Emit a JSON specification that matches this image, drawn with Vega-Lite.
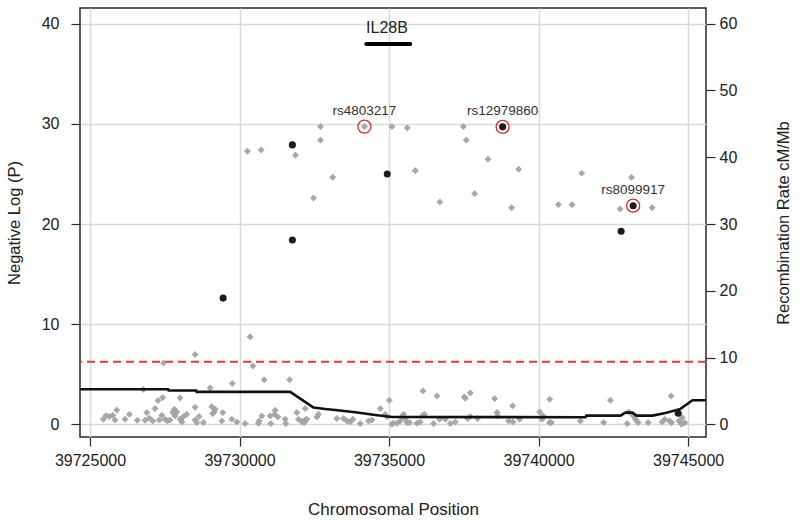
{
  "$schema": "https://vega.github.io/schema/vega-lite/v6.json",
  "width": 626,
  "height": 429,
  "autosize": {"type": "none"},
  "padding": {"left": 80, "top": 8, "right": 94, "bottom": 88},
  "background": "white",
  "config": {
    "view": {"stroke": "#2a2a2a", "strokeWidth": 1.5},
    "font": "Liberation Sans",
    "axis": {"labelColor": "#222", "titleColor": "#222", "titleFontWeight": "normal", "tickColor": "#2a2a2a", "tickWidth": 1.2, "domain": false, "labelFlush": false, "labelOverlap": false}
  },
  "datasets": {
    "snps": [
      {"pos": 39730264, "logp": 27.27, "kind": "g"},
      {"pos": 39730723, "logp": 27.4, "kind": "g"},
      {"pos": 39731767, "logp": 27.9, "kind": "b"},
      {"pos": 39731871, "logp": 26.87, "kind": "g"},
      {"pos": 39732707, "logp": 29.73, "kind": "g"},
      {"pos": 39732707, "logp": 28.37, "kind": "g"},
      {"pos": 39733116, "logp": 24.67, "kind": "g"},
      {"pos": 39732474, "logp": 22.6, "kind": "g"},
      {"pos": 39734177, "logp": 29.73, "kind": "g", "label": "rs4803217"},
      {"pos": 39735097, "logp": 29.73, "kind": "g"},
      {"pos": 39735609, "logp": 29.6, "kind": "g"},
      {"pos": 39734940, "logp": 25.0, "kind": "b"},
      {"pos": 39735877, "logp": 25.33, "kind": "g"},
      {"pos": 39736697, "logp": 22.2, "kind": "g"},
      {"pos": 39731767, "logp": 18.4, "kind": "b"},
      {"pos": 39729451, "logp": 12.6, "kind": "b"},
      {"pos": 39737483, "logp": 29.73, "kind": "g"},
      {"pos": 39737583, "logp": 28.37, "kind": "g"},
      {"pos": 39738798, "logp": 29.7, "kind": "b", "label": "rs12979860"},
      {"pos": 39738310, "logp": 26.47, "kind": "g"},
      {"pos": 39739334, "logp": 25.47, "kind": "g"},
      {"pos": 39737861, "logp": 23.03, "kind": "g"},
      {"pos": 39739099, "logp": 21.63, "kind": "g"},
      {"pos": 39741442, "logp": 25.07, "kind": "g"},
      {"pos": 39740663, "logp": 21.93, "kind": "g"},
      {"pos": 39741121, "logp": 21.93, "kind": "g"},
      {"pos": 39743106, "logp": 24.67, "kind": "g"},
      {"pos": 39742728, "logp": 21.5, "kind": "g"},
      {"pos": 39743162, "logp": 21.83, "kind": "b", "label": "rs8099917"},
      {"pos": 39743799, "logp": 21.63, "kind": "g"},
      {"pos": 39742761, "logp": 19.27, "kind": "b"},
      {"pos": 39730354, "logp": 8.73, "kind": "g"},
      {"pos": 39730445, "logp": 5.83, "kind": "g"},
      {"pos": 39728514, "logp": 6.97, "kind": "g"},
      {"pos": 39727460, "logp": 6.12, "kind": "g"},
      {"pos": 39730824, "logp": 4.45, "kind": "g"},
      {"pos": 39729759, "logp": 4.07, "kind": "g"},
      {"pos": 39731676, "logp": 4.45, "kind": "g"},
      {"pos": 39729016, "logp": 3.63, "kind": "g"},
      {"pos": 39726781, "logp": 3.48, "kind": "g"},
      {"pos": 39728012, "logp": 2.63, "kind": "g"},
      {"pos": 39727276, "logp": 2.37, "kind": "g"},
      {"pos": 39727433, "logp": 2.67, "kind": "g"},
      {"pos": 39728514, "logp": 1.7, "kind": "g"},
      {"pos": 39725894, "logp": 1.43, "kind": "g"},
      {"pos": 39725760, "logp": 0.9, "kind": "g"},
      {"pos": 39725646, "logp": 0.77, "kind": "g"},
      {"pos": 39725445, "logp": 0.5, "kind": "g"},
      {"pos": 39725535, "logp": 0.87, "kind": "g"},
      {"pos": 39725836, "logp": 0.43, "kind": "g"},
      {"pos": 39726172, "logp": 0.5, "kind": "g"},
      {"pos": 39726316, "logp": 1.0, "kind": "g"},
      {"pos": 39726583, "logp": 0.4, "kind": "g"},
      {"pos": 39726841, "logp": 0.4, "kind": "g"},
      {"pos": 39726984, "logp": 0.63, "kind": "g"},
      {"pos": 39726898, "logp": 1.17, "kind": "g"},
      {"pos": 39727098, "logp": 0.33, "kind": "g"},
      {"pos": 39727175, "logp": 1.57, "kind": "g"},
      {"pos": 39727400, "logp": 0.9, "kind": "g"},
      {"pos": 39727319, "logp": 0.43, "kind": "g"},
      {"pos": 39727510, "logp": 0.5, "kind": "g"},
      {"pos": 39727587, "logp": 0.33, "kind": "g"},
      {"pos": 39727678, "logp": 0.43, "kind": "g"},
      {"pos": 39727822, "logp": 1.5, "kind": "g"},
      {"pos": 39727901, "logp": 1.23, "kind": "g"},
      {"pos": 39727767, "logp": 1.17, "kind": "g"},
      {"pos": 39727845, "logp": 0.83, "kind": "g"},
      {"pos": 39728012, "logp": 0.5, "kind": "g"},
      {"pos": 39728123, "logp": 0.77, "kind": "g"},
      {"pos": 39728236, "logp": 1.0, "kind": "g"},
      {"pos": 39728079, "logp": 0.23, "kind": "g"},
      {"pos": 39728514, "logp": 0.43, "kind": "g"},
      {"pos": 39728648, "logp": 0.77, "kind": "g"},
      {"pos": 39728571, "logp": 0.17, "kind": "g"},
      {"pos": 39728792, "logp": 0.17, "kind": "g"},
      {"pos": 39729073, "logp": 1.77, "kind": "g"},
      {"pos": 39729184, "logp": 1.5, "kind": "g"},
      {"pos": 39729106, "logp": 1.07, "kind": "g"},
      {"pos": 39729149, "logp": 1.23, "kind": "g"},
      {"pos": 39729441, "logp": 1.17, "kind": "g"},
      {"pos": 39729407, "logp": 0.33, "kind": "g"},
      {"pos": 39729742, "logp": 0.5, "kind": "g"},
      {"pos": 39729910, "logp": 0.23, "kind": "g"},
      {"pos": 39730187, "logp": 0.07, "kind": "g"},
      {"pos": 39730632, "logp": 0.1, "kind": "g"},
      {"pos": 39730746, "logp": 0.83, "kind": "g"},
      {"pos": 39730655, "logp": 0.33, "kind": "g"},
      {"pos": 39731047, "logp": 0.07, "kind": "g"},
      {"pos": 39731024, "logp": 0.83, "kind": "g"},
      {"pos": 39731191, "logp": 1.4, "kind": "g"},
      {"pos": 39731282, "logp": 0.73, "kind": "g"},
      {"pos": 39731168, "logp": 1.0, "kind": "g"},
      {"pos": 39731526, "logp": 0.5, "kind": "g"},
      {"pos": 39731549, "logp": 0.07, "kind": "g"},
      {"pos": 39731918, "logp": 1.17, "kind": "g"},
      {"pos": 39731971, "logp": 0.5, "kind": "g"},
      {"pos": 39732085, "logp": 0.27, "kind": "g"},
      {"pos": 39732196, "logp": 0.43, "kind": "g"},
      {"pos": 39732161, "logp": 0.17, "kind": "g"},
      {"pos": 39732252, "logp": 0.5, "kind": "g"},
      {"pos": 39732196, "logp": 1.57, "kind": "g"},
      {"pos": 39732587, "logp": 0.73, "kind": "g"},
      {"pos": 39732641, "logp": 1.0, "kind": "g"},
      {"pos": 39733257, "logp": 0.57, "kind": "g"},
      {"pos": 39733477, "logp": 0.57, "kind": "g"},
      {"pos": 39733591, "logp": 0.33, "kind": "g"},
      {"pos": 39733702, "logp": 0.23, "kind": "g"},
      {"pos": 39733792, "logp": 0.5, "kind": "g"},
      {"pos": 39734036, "logp": 0.07, "kind": "g"},
      {"pos": 39734314, "logp": 0.33, "kind": "g"},
      {"pos": 39734427, "logp": 0.43, "kind": "g"},
      {"pos": 39734705, "logp": 1.57, "kind": "g"},
      {"pos": 39735006, "logp": 2.4, "kind": "g"},
      {"pos": 39734872, "logp": 1.0, "kind": "g"},
      {"pos": 39734930, "logp": 0.77, "kind": "g"},
      {"pos": 39735097, "logp": 0.0, "kind": "g"},
      {"pos": 39736135, "logp": 3.33, "kind": "g"},
      {"pos": 39736603, "logp": 2.83, "kind": "g"},
      {"pos": 39737517, "logp": 2.73, "kind": "g"},
      {"pos": 39737717, "logp": 3.13, "kind": "g"},
      {"pos": 39737550, "logp": 2.6, "kind": "g"},
      {"pos": 39738531, "logp": 2.57, "kind": "g"},
      {"pos": 39739133, "logp": 1.83, "kind": "g"},
      {"pos": 39740037, "logp": 1.23, "kind": "g"},
      {"pos": 39740150, "logp": 0.83, "kind": "g"},
      {"pos": 39740371, "logp": 2.5, "kind": "g"},
      {"pos": 39735486, "logp": 1.0, "kind": "g"},
      {"pos": 39735432, "logp": 0.77, "kind": "g"},
      {"pos": 39735542, "logp": 0.57, "kind": "g"},
      {"pos": 39735375, "logp": 0.33, "kind": "g"},
      {"pos": 39735264, "logp": 0.1, "kind": "g"},
      {"pos": 39735150, "logp": 0.1, "kind": "g"},
      {"pos": 39735599, "logp": 0.17, "kind": "g"},
      {"pos": 39735686, "logp": 0.17, "kind": "g"},
      {"pos": 39735933, "logp": 0.1, "kind": "g"},
      {"pos": 39736044, "logp": 0.23, "kind": "g"},
      {"pos": 39736135, "logp": 0.9, "kind": "g"},
      {"pos": 39736188, "logp": 1.0, "kind": "g"},
      {"pos": 39736489, "logp": 0.07, "kind": "g"},
      {"pos": 39736691, "logp": 0.5, "kind": "g"},
      {"pos": 39736881, "logp": 0.5, "kind": "g"},
      {"pos": 39737048, "logp": 0.07, "kind": "g"},
      {"pos": 39737215, "logp": 0.23, "kind": "g"},
      {"pos": 39737717, "logp": 0.77, "kind": "g"},
      {"pos": 39737627, "logp": 0.57, "kind": "g"},
      {"pos": 39737962, "logp": 0.57, "kind": "g"},
      {"pos": 39738611, "logp": 1.17, "kind": "g"},
      {"pos": 39738631, "logp": 0.83, "kind": "g"},
      {"pos": 39738999, "logp": 0.33, "kind": "g"},
      {"pos": 39739147, "logp": 0.23, "kind": "g"},
      {"pos": 39739367, "logp": 0.5, "kind": "g"},
      {"pos": 39740117, "logp": 0.5, "kind": "g"},
      {"pos": 39740371, "logp": 0.17, "kind": "g"},
      {"pos": 39742403, "logp": 2.4, "kind": "g"},
      {"pos": 39744435, "logp": 2.83, "kind": "g"},
      {"pos": 39740428, "logp": 0.17, "kind": "g"},
      {"pos": 39741399, "logp": 0.33, "kind": "g"},
      {"pos": 39742179, "logp": 0.17, "kind": "g"},
      {"pos": 39742962, "logp": 0.07, "kind": "g"},
      {"pos": 39743015, "logp": 1.23, "kind": "g"},
      {"pos": 39743240, "logp": 0.5, "kind": "g"},
      {"pos": 39743330, "logp": 0.17, "kind": "g"},
      {"pos": 39743665, "logp": 0.17, "kind": "g"},
      {"pos": 39744133, "logp": 0.23, "kind": "g"},
      {"pos": 39744220, "logp": 0.5, "kind": "g"},
      {"pos": 39744378, "logp": 0.33, "kind": "g"},
      {"pos": 39744444, "logp": 0.17, "kind": "g"},
      {"pos": 39744689, "logp": 0.33, "kind": "g"},
      {"pos": 39744802, "logp": 0.67, "kind": "g"},
      {"pos": 39744890, "logp": 0.17, "kind": "g"},
      {"pos": 39744779, "logp": 0.0, "kind": "g"},
      {"pos": 39743149, "logp": 0.9, "kind": "g"},
      {"pos": 39744668, "logp": 1.1, "kind": "b"}
    ],
    "recomb": [
      {"pos": 39724665, "rate": 5.25},
      {"pos": 39727610, "rate": 5.25},
      {"pos": 39727630, "rate": 5.06},
      {"pos": 39728548, "rate": 5.06},
      {"pos": 39728568, "rate": 4.85},
      {"pos": 39731693, "rate": 4.85},
      {"pos": 39732473, "rate": 2.5},
      {"pos": 39732865, "rate": 2.3},
      {"pos": 39733199, "rate": 2.15},
      {"pos": 39733869, "rate": 1.8},
      {"pos": 39734538, "rate": 1.4},
      {"pos": 39735107, "rate": 1.1},
      {"pos": 39741566, "rate": 1.05},
      {"pos": 39741600, "rate": 1.3},
      {"pos": 39742738, "rate": 1.3},
      {"pos": 39742905, "rate": 1.75},
      {"pos": 39743139, "rate": 1.75},
      {"pos": 39743273, "rate": 1.3},
      {"pos": 39743808, "rate": 1.3},
      {"pos": 39744243, "rate": 1.7},
      {"pos": 39744746, "rate": 2.3},
      {"pos": 39745147, "rate": 3.6},
      {"pos": 39745599, "rate": 3.6}
    ],
    "thresh": [{"logp": 6.25}],
    "gene": [{"pos": 39734237, "end": 39735709, "logp": 37.97}],
    "genelabel": [{"pos": 39734930, "logp": 39.57, "name": "IL28B"}]
  },
  "layer": [
    {
      "encoding": {
        "y": {
          "field": "logp", "type": "quantitative",
          "scale": {"domain": [-1.27, 41.57], "nice": false, "zero": false},
          "axis": {"orient": "left", "values": [0, 10, 20, 30, 40], "title": "Negative Log (P)", "grid": true, "gridColor": "#d9d9d9", "gridWidth": 1.5, "tickSize": 9, "labelFontSize": 16, "labelPadding": 12, "titleFontSize": 16.5, "titlePadding": 19}
        }
      },
      "layer": [
        {
          "data": {"name": "thresh"},
          "mark": {"type": "rule", "color": "#e03a3a", "strokeWidth": 2, "strokeDash": [8, 5]},
          "encoding": {}
        },
        {
          "data": {"name": "snps"},
          "transform": [{"filter": "datum.kind === 'g'"}],
          "mark": {"type": "point", "shape": "diamond", "filled": true, "size": 38, "color": "#a8a8a8", "stroke": "#999999", "strokeWidth": 0.6, "opacity": 1},
          "encoding": {
            "x": {
              "field": "pos", "type": "quantitative",
              "scale": {"domain": [39724665, 39745599], "nice": false, "zero": false},
              "axis": {"values": [39725000, 39730000, 39735000, 39740000, 39745000], "format": "d", "title": "Chromosomal Position", "grid": true, "gridColor": "#d9d9d9", "gridWidth": 1.5, "tickSize": 9, "labelFontSize": 16, "labelPadding": 6, "titleFontSize": 17, "titlePadding": 33}
            }
          }
        }
      ]
    },
    {
      "data": {"name": "recomb"},
      "mark": {"type": "line", "color": "#111111", "strokeWidth": 2.6},
      "encoding": {
        "x": {
          "field": "pos", "type": "quantitative",
          "scale": {"domain": [39724665, 39745599], "nice": false, "zero": false},
          "axis": {"values": [39725000, 39730000, 39735000, 39740000, 39745000], "format": "d", "title": "Chromosomal Position", "grid": true, "gridColor": "#d9d9d9", "gridWidth": 1.5, "tickSize": 9, "labelFontSize": 16, "labelPadding": 6, "titleFontSize": 17, "titlePadding": 33}
        },
        "y": {
          "field": "rate", "type": "quantitative",
          "scale": {"domain": [-1.905, 62.355], "nice": false, "zero": false},
          "axis": {"orient": "right", "values": [0, 10, 20, 30, 40, 50, 60], "title": "Recombination Rate cM/Mb", "grid": false, "tickSize": 9, "labelFontSize": 16, "labelPadding": 4, "titleFontSize": 16.5, "titleAngle": -90, "titlePadding": 55}
        }
      }
    },
    {
      "encoding": {
        "y": {"field": "logp", "type": "quantitative", "scale": {"domain": [-1.27, 41.57], "nice": false, "zero": false}, "axis": null},
        "x": {
          "field": "pos", "type": "quantitative",
          "scale": {"domain": [39724665, 39745599], "nice": false, "zero": false},
          "axis": {"values": [39725000, 39730000, 39735000, 39740000, 39745000], "format": "d", "title": "Chromosomal Position", "grid": true, "gridColor": "#d9d9d9", "gridWidth": 1.5, "tickSize": 9, "labelFontSize": 16, "labelPadding": 6, "titleFontSize": 17, "titlePadding": 33}
        }
      },
      "layer": [
        {
          "data": {"name": "snps"},
          "transform": [{"filter": "datum.kind === 'b'"}],
          "mark": {"type": "circle", "size": 50, "color": "#1c1c1c", "opacity": 1}
        },
        {
          "data": {"name": "snps"},
          "transform": [{"filter": "datum.label"}],
          "mark": {"type": "point", "shape": "circle", "filled": false, "size": 170, "stroke": "#d63030", "strokeWidth": 1.3, "opacity": 1}
        },
        {
          "data": {"name": "snps"},
          "transform": [{"filter": "datum.label"}],
          "mark": {"type": "text", "dy": -16, "fontSize": 13.5, "color": "#333333", "baseline": "middle", "align": "center"},
          "encoding": {"text": {"field": "label"}}
        },
        {
          "data": {"name": "gene"},
          "mark": {"type": "rule", "color": "#000000", "strokeWidth": 4, "strokeCap": "round"},
          "encoding": {"x2": {"field": "end"}}
        },
        {
          "data": {"name": "genelabel"},
          "mark": {"type": "text", "fontSize": 16, "color": "#222222", "baseline": "middle", "align": "center"},
          "encoding": {"text": {"field": "name"}}
        }
      ]
    }
  ],
  "resolve": {"scale": {"y": "independent"}}
}
